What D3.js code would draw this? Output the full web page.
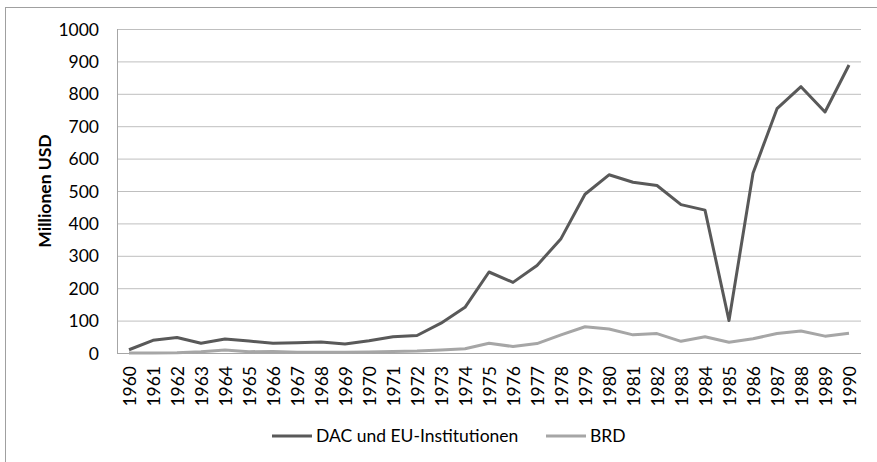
<!DOCTYPE html>
<html>
<head>
<meta charset="utf-8">
<script src="https://cdn.jsdelivr.net/npm/d3@7"></script>
<style>
  body { margin: 0; background: #fff; }
  svg text { font-family: Lato, "Open Sans", sans-serif; fill: #000; }
</style>
</head>
<body>
<svg id="chart" width="877" height="462"></svg>
<script>
// data
const years = d3.range(1960, 1991).map(String);
const dac = [10, 39, 48, 30, 43, 37, 30, 32, 34, 28, 38, 50, 54, 92, 141,
             250, 218, 270, 353, 490, 550, 527, 517, 458, 441, 100, 555, 754, 822, 744, 889];
const brd = [0, 0, 1, 4, 9, 4, 5, 2, 2, 2, 3, 5, 6, 9, 13,
             30, 20, 29, 56, 81, 74, 56, 60, 36, 50, 33, 44, 60, 68, 52, 61];
const yTicks = [0, 100, 200, 300, 400, 500, 600, 700, 800, 900, 1000];
const seriesNames = ["DAC und EU-Institutionen", "BRD"];
const seriesColors = ["#595959", "#a6a6a6"];

const svg = d3.select("#chart");
const fs = "17.5px";

// outer frame (only top/left edges visible)
svg.append("rect")
  .attr("x", 5.5).attr("y", 7.5)
  .attr("width", 900).attr("height", 500)
  .attr("fill", "none").attr("stroke", "#a0a0a0");

const pLeft = 117, pRight = 861, pTop = 29, pBottom = 353;

const x = d3.scalePoint().domain(years).range([pLeft, pRight]).padding(0.5);
const y = d3.scaleLinear().domain([0, 1000]).range([pBottom, pTop]);

// gridlines
svg.append("g").selectAll("line")
  .data(yTicks.slice(1))
  .join("line")
  .attr("x1", pLeft).attr("x2", pRight)
  .attr("y1", d => y(d) + 0.5).attr("y2", d => y(d) + 0.5)
  .attr("stroke", "#bfbfbf").attr("stroke-width", 1);

// axes lines
svg.append("line")
  .attr("x1", pLeft + 0.5).attr("x2", pLeft + 0.5)
  .attr("y1", pTop).attr("y2", pBottom)
  .attr("stroke", "#a6a6a6");
svg.append("line")
  .attr("x1", pLeft).attr("x2", pRight)
  .attr("y1", pBottom + 0.5).attr("y2", pBottom + 0.5)
  .attr("stroke", "#a6a6a6");

// y tick labels
const yAxis = d3.axisLeft(y).tickValues(yTicks).tickFormat(d3.format("d"))
  .tickSize(0).tickPadding(18);
const gy = svg.append("g")
  .attr("transform", `translate(${pLeft},0)`)
  .call(yAxis);
gy.select(".domain").remove();
gy.selectAll("text").style("font-size", fs).attr("dy", "0.35em");

// x tick labels, rotated
const xAxis = d3.axisBottom(x).tickSize(0).tickPadding(0);
const gx = svg.append("g")
  .attr("transform", `translate(0,${pBottom})`)
  .call(xAxis);
gx.select(".domain").remove();
gx.selectAll("text")
  .style("font-size", fs)
  .attr("text-anchor", "end")
  .attr("dy", "0.35em")
  .attr("transform", "translate(0,13) rotate(-90)")
  .attr("x", 0).attr("y", 0);

// y axis title
svg.append("text")
  .attr("transform", `translate(51,${(pTop + pBottom) / 2}) rotate(-90)`)
  .attr("text-anchor", "middle")
  .style("font-size", fs)
  .style("font-weight", "bold")
  .text("Millionen USD");

// lines
const line = d3.line()
  .x((d, i) => x(years[i]))
  .y(d => y(d));

[brd, dac].forEach((vals, k) => {
  svg.append("path")
    .datum(vals)
    .attr("d", line)
    .attr("fill", "none")
    .attr("stroke", k === 0 ? seriesColors[1] : seriesColors[0])
    .attr("stroke-width", 3)
    .attr("stroke-linejoin", "round");
});

// legend
const legendX = [272, 546];
const legendY = 436;
seriesNames.forEach((name, i) => {
  const g = svg.append("g").attr("transform", `translate(${legendX[i]},${legendY})`);
  g.append("line")
    .attr("x1", 0).attr("x2", 40)
    .attr("stroke", seriesColors[i]).attr("stroke-width", 3);
  g.append("text")
    .attr("x", 44).attr("dy", "0.35em")
    .style("font-size", fs)
    .text(name);
});
</script>
</body>
</html>
